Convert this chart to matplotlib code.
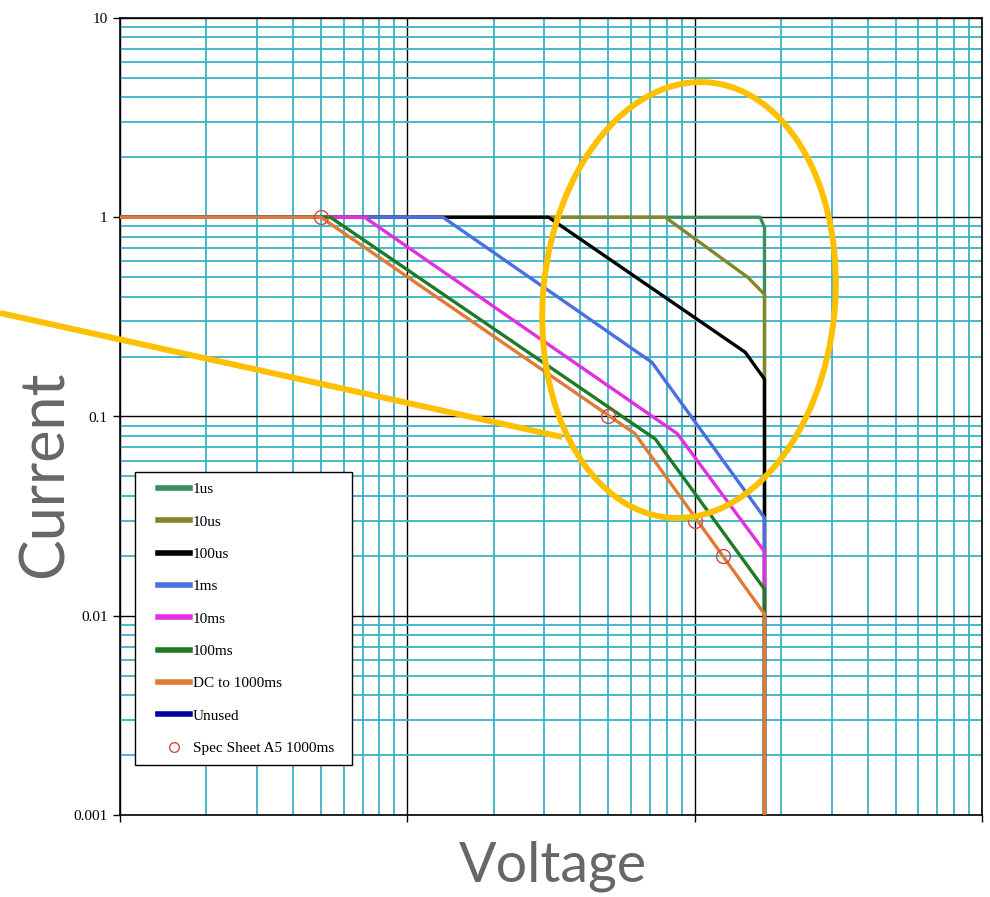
import numpy as np
import matplotlib
matplotlib.use('Agg')
import matplotlib.pyplot as plt
from matplotlib.patches import Ellipse, Rectangle
from matplotlib.lines import Line2D
from matplotlib.transforms import IdentityTransform
import matplotlib.ticker as ticker

# Curve data (voltage, current)
names = ['1us', '10us', '100us', '1ms', '10ms', '100ms', 'DC to 1000ms', 'Unused']
colors = ['#3a8f5c', '#85852a', '#000000', '#4a6fe0', '#e030e0', '#1f7a25', '#e07a35', '#0000a0']

v_1us = [1, 169, 175, 175]
i_1us = [1, 1, 0.89, 0.001]
v_10us = [1, 79, 153, 175, 175]
i_10us = [1, 1, 0.5, 0.41, 0.001]
v_100us = [1, 31, 150, 175, 175]
i_100us = [1, 1, 0.21, 0.154, 0.001]
v_1ms = [1, 13.3, 71, 175, 175]
i_1ms = [1, 1, 0.187, 0.031, 0.001]
v_10ms = [1, 7.1, 87, 175, 175]
i_10ms = [1, 1, 0.082, 0.021, 0.001]
v_100ms = [1, 5.4, 73, 175, 175]
i_100ms = [1, 1, 0.077, 0.0136, 0.001]
v_dc = [1, 5.0, 62, 175, 175]
i_dc = [1, 1, 0.082, 0.0102, 0.001]

# spec sheet points
spec_v = [5, 50, 100, 125]
spec_i = [1, 0.1, 0.03, 0.02]

curves = [(v_1us, i_1us), (v_10us, i_10us), (v_100us, i_100us), (v_1ms, i_1ms),
          (v_10ms, i_10ms), (v_100ms, i_100ms), (v_dc, i_dc)]

fig = plt.figure(figsize=(9.9, 8.97), dpi=100)
ax = fig.add_axes([120/990, 1-815/897, 862/990, 797/897])

ax.set_xscale('log')
ax.set_yscale('log')
ax.set_xlim(1, 1000)
ax.set_ylim(0.001, 10)

# grid
ax.xaxis.set_minor_locator(ticker.LogLocator(base=10, subs=np.arange(2, 10)))
ax.yaxis.set_minor_locator(ticker.LogLocator(base=10, subs=np.arange(2, 10)))
ax.grid(which='minor', color='#38b3c6', lw=1.3, zorder=0)
ax.grid(which='major', color='black', lw=1.0, zorder=0.5)
ax.set_axisbelow(True)

for (v, c), col in zip(curves, colors):
    ax.plot(v, c, color=col, lw=2.4, solid_joinstyle='round', zorder=3)

ax.plot(spec_v, spec_i, 'o', mfc='none', mec='#d04848', mew=1.0, ms=10, zorder=4)

ax.yaxis.set_major_formatter(ticker.FuncFormatter(lambda y, p: '{:g}'.format(y)))
ax.xaxis.set_major_formatter(ticker.NullFormatter())
ax.tick_params(which='major', length=5, width=1, pad=4, labelsize=11)
ax.tick_params(which='minor', length=0)
for lbl in ax.get_yticklabels():
    lbl.set_family('Liberation Serif')
for s in ax.spines.values():
    s.set_linewidth(1.2)

# legend box drawn separately so the padding matches
ax.add_patch(Rectangle((0.0174, 0.0627), 0.2517, 0.3677, transform=ax.transAxes,
                       facecolor='white', edgecolor='black', lw=1.0, zorder=5))
handles = [Line2D([0], [0], color=col, lw=4) for col in colors]
handles.append(Line2D([0], [0], ls='none', marker='o', mfc='none', mec='#d04848', ms=7))
labels = names + ['Spec Sheet A5 1000ms']
leg = ax.legend(handles, labels, loc='upper left', bbox_to_anchor=(0.0441, 0.417),
                prop={'family': 'Liberation Serif', 'size': 11}, frameon=False,
                handlelength=2.1, handletextpad=0.2, labelspacing=1.22,
                borderpad=0, borderaxespad=0)
leg.set_zorder(6)

# axis labels
fig.text(45/990, 1-474/897, 'Current', rotation=90, ha='center', va='center',
         fontsize=44, family='Lato', color='#646869')
fig.text(553/990, 1-866/897, 'Voltage', ha='center', va='center',
         fontsize=40, family='Lato', color='#646869')

# orange annotation
fig.add_artist(Line2D([0, 562], [897-313, 897-437], color='#ffc000', lw=4.3,
                      transform=IdentityTransform(), solid_capstyle='butt'))
fig.add_artist(Ellipse((689, 897-300), width=292, height=437, angle=-5.5, fill=False,
                       edgecolor='#ffc000', lw=4.3, transform=IdentityTransform()))

fig.savefig('out.png', dpi=100)
